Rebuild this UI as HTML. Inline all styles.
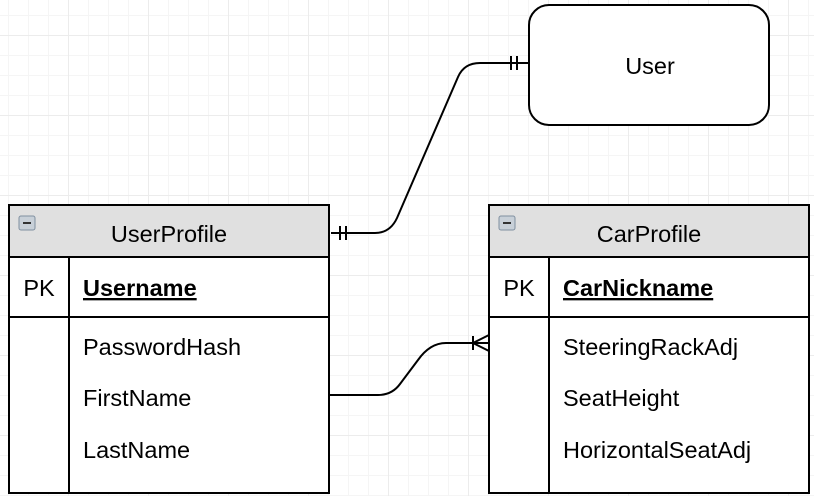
<!DOCTYPE html>
<html><head><style>
body{margin:0;width:814px;height:496px;overflow:hidden;background:#fff}
text{font-family:"Liberation Sans",Arial,sans-serif;font-size:23.5px;fill:#000}
</style></head><body>
<svg width="814" height="496" xmlns="http://www.w3.org/2000/svg">
<defs>
<pattern id="g" x="8" y="15" width="80" height="80" patternUnits="userSpaceOnUse">
<path d="M0.5 0V80M20.5 0V80M40.5 0V80M0 0.5H80M0 40.5H80M0 60.5H80" stroke="#f5f5f5" stroke-width="1"/>
<path d="M60.5 0V80M0 20.5H80" stroke="#ececec" stroke-width="1"/>
</pattern>
</defs>
<rect width="814" height="496" fill="url(#g)"/>
<!-- User -->
<rect x="529" y="5" width="240" height="120" rx="20" fill="#fff" stroke="#000" stroke-width="2"/>
<text x="650" y="74" text-anchor="middle">User</text>
<!-- connectors -->
<path d="M331 233H375Q390 233 397 218L458 77Q464 63 480 63H529" fill="none" stroke="#000" stroke-width="2"/>
<path d="M340 226V240M346 226V240M511 56V70M517 56V70" stroke="#000" stroke-width="2"/>
<path d="M329 395H378Q392 395 400 384L418 360Q430 343 446 343H489" fill="none" stroke="#000" stroke-width="2"/>
<path d="M473 336V350M489 335L473 343L489 351" fill="none" stroke="#000" stroke-width="2"/>
<!-- tables -->
<g id="t1">
<rect x="9" y="205" width="320" height="288" fill="#fff" stroke="#000" stroke-width="2"/>
<rect x="10" y="206" width="318" height="51" fill="#e0e0e0"/>
<path d="M9 257H329M9 317H329M69 257V493" stroke="#000" stroke-width="2"/>
<rect x="19" y="216" width="16" height="14" rx="2" fill="#c8d0d8" stroke="#8090a0"/>
<rect x="23" y="222" width="8" height="2" fill="#333"/>
</g>
<use href="#t1" x="480"/>
<text x="169" y="242" text-anchor="middle">UserProfile</text>
<text x="39" y="296" text-anchor="middle">PK</text>
<text x="83" y="296" font-weight="bold" text-decoration="underline">Username</text>
<text x="83" y="355">PasswordHash</text>
<text x="83" y="406">FirstName</text>
<text x="83" y="458">LastName</text>
<text x="649" y="242" text-anchor="middle">CarProfile</text>
<text x="519" y="296" text-anchor="middle">PK</text>
<text x="563" y="296" font-weight="bold" text-decoration="underline">CarNickname</text>
<text x="563" y="355">SteeringRackAdj</text>
<text x="563" y="406">SeatHeight</text>
<text x="563" y="458">HorizontalSeatAdj</text>
</svg>
</body></html>
